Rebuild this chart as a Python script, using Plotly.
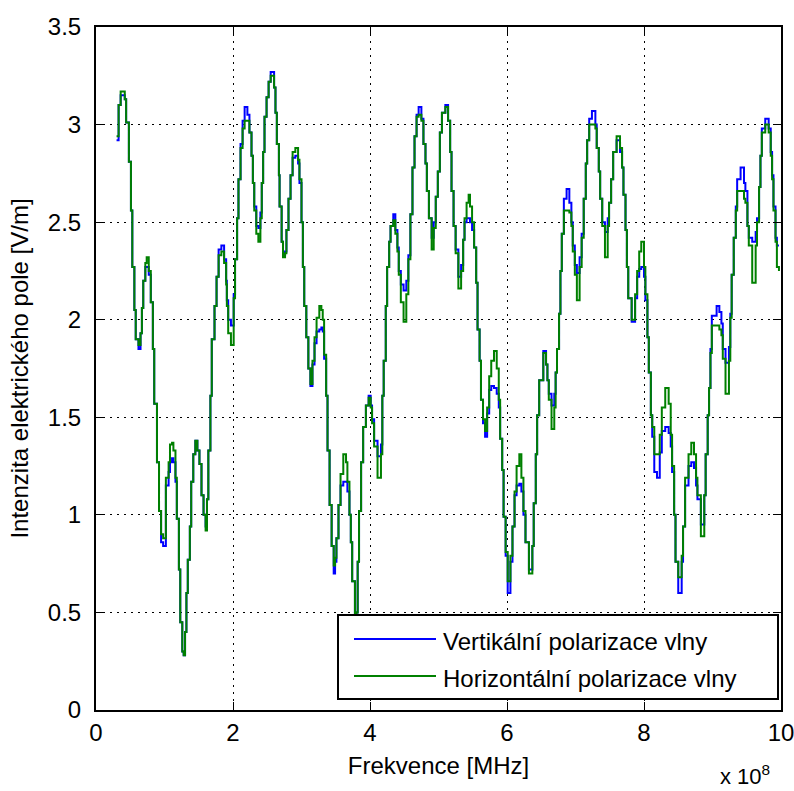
import plotly.graph_objects as go

# Frequency in units of 10^8 Hz (axis shows "x 10^8")
freq = [0.30,0.33,0.36,0.40,0.42,0.44,0.48,0.51,0.53,0.56,0.58,0.62,0.65,0.67,0.69,0.72,0.74,0.77,0.80,0.83,
        0.85,0.89,0.92,0.95,0.98,1.02,1.06,1.08,1.11,1.13,1.16,1.18,1.21,1.23,1.26,1.28,1.30,1.32,1.34,1.37,
        1.39,1.42,1.45,1.48,1.51,1.54,1.57,1.60,1.62,1.64,1.67,1.69,1.73,1.76,1.79,1.83,1.87,1.90,1.91,1.93,
        1.97,2.01,2.03,2.06,2.08,2.11,2.14,2.17,2.21,2.24,2.27,2.29,2.31,2.34,2.37,2.40,2.42,2.44,2.46,2.49,
        2.52,2.55,2.58,2.60,2.62,2.64,2.67,2.68,2.71,2.73,2.76,2.78,2.81,2.84,2.87,2.91,2.95,2.97,3.00,3.02,
        3.04,3.07,3.10,3.13,3.16,3.19,3.22,3.26,3.29,3.31,3.33,3.36,3.38,3.41,3.44,3.47,3.49,3.51,3.54,3.57,
        3.61,3.65,3.67,3.70,3.72,3.74,3.78,3.80,3.82,3.84,3.87,3.90,3.94,3.98,4.01,4.03,4.06,4.11,4.16,4.18,
        4.20,4.23,4.25,4.28,4.30,4.34,4.37,4.40,4.42,4.45,4.49,4.53,4.56,4.59,4.62,4.65,4.68,4.71,4.75,4.78,
        4.81,4.83,4.86,4.90,4.93,4.96,4.99,5.02,5.05,5.10,5.14,5.17,5.19,5.22,5.25,5.29,5.33,5.36,5.38,5.41,
        5.44,5.46,5.49,5.52,5.55,5.57,5.60,5.62,5.65,5.68,5.71,5.74,5.77,5.81,5.85,5.88,5.90,5.93,5.95,5.98,
        6.01,6.05,6.08,6.11,6.14,6.18,6.21,6.24,6.27,6.32,6.37,6.39,6.42,6.44,6.47,6.53,6.57,6.59,6.61,6.65,
        6.69,6.71,6.73,6.76,6.78,6.80,6.83,6.87,6.91,6.94,6.96,6.99,7.02,7.06,7.09,7.12,7.15,7.17,7.20,7.24,
        7.29,7.31,7.34,7.36,7.39,7.43,7.47,7.49,7.52,7.55,7.60,7.65,7.68,7.70,7.73,7.75,7.77,7.82,7.87,7.90,
        7.93,7.96,8.00,8.02,8.05,8.07,8.10,8.12,8.15,8.19,8.23,8.26,8.31,8.36,8.39,8.41,8.44,8.46,8.50,8.55,
        8.57,8.60,8.65,8.69,8.73,8.76,8.78,8.83,8.88,8.90,8.93,8.95,8.97,8.99,9.06,9.10,9.13,9.15,9.19,9.24,
        9.26,9.28,9.31,9.34,9.36,9.41,9.46,9.48,9.51,9.53,9.58,9.63,9.65,9.68,9.70,9.72,9.77,9.82,9.85,9.87,
        9.89,9.92,9.94,9.97]

# Horizontal polarization (green)
horizontal = [2.94,3.10,3.17,3.17,3.13,3.01,2.81,2.56,2.27,2.05,1.90,1.87,1.93,2.06,2.20,2.29,2.32,2.25,2.09,1.85,
        1.57,1.27,1.02,0.90,0.88,1.19,1.27,1.36,1.37,1.33,1.19,0.98,0.72,0.45,0.30,0.28,0.40,0.60,0.77,0.94,
        1.17,1.31,1.38,1.33,1.26,1.10,1.00,0.92,1.08,1.33,1.61,1.90,2.07,2.22,2.33,2.35,2.29,2.18,2.07,1.93,
        1.87,2.11,2.31,2.52,2.72,2.88,2.98,3.02,3.02,2.96,2.84,2.70,2.56,2.44,2.40,2.52,2.70,2.86,3.04,3.14,
        3.22,3.25,3.25,3.19,3.06,2.90,2.74,2.58,2.40,2.32,2.34,2.46,2.62,2.74,2.86,2.88,2.82,2.72,2.50,2.27,
        2.07,1.91,1.75,1.67,1.79,1.91,2.01,2.07,2.05,2.00,1.82,1.61,1.33,1.05,0.84,0.74,0.78,0.88,1.05,1.21,
        1.31,1.27,1.17,1.00,0.86,0.66,0.47,0.50,0.76,1.02,1.27,1.45,1.56,1.60,1.55,1.47,1.35,1.19,1.31,1.61,
        1.79,2.07,2.27,2.40,2.48,2.51,2.44,2.35,2.23,2.09,1.99,2.13,2.31,2.54,2.78,2.94,3.04,3.05,3.02,2.90,
        2.80,2.66,2.52,2.36,2.47,2.63,2.76,2.96,3.06,3.09,3.02,2.86,2.66,2.48,2.34,2.16,2.25,2.41,2.52,2.60,
        2.64,2.58,2.50,2.37,2.19,1.95,1.79,1.59,1.49,1.43,1.55,1.71,1.79,1.84,1.75,1.59,1.39,1.23,0.99,0.81,
        0.66,0.79,0.94,1.12,1.25,1.31,1.19,1.02,0.86,0.70,0.84,1.06,1.31,1.51,1.69,1.83,1.77,1.69,1.59,1.44,
        1.55,1.73,1.85,2.03,2.25,2.44,2.56,2.56,2.55,2.48,2.35,2.23,2.10,2.27,2.42,2.62,2.80,2.92,3.00,3.00,
        2.98,2.88,2.76,2.62,2.48,2.32,2.48,2.60,2.72,2.86,2.94,2.88,2.78,2.64,2.46,2.27,2.11,2.00,2.13,2.25,
        2.35,2.40,2.27,2.13,1.91,1.73,1.51,1.45,1.31,1.31,1.41,1.55,1.65,1.57,1.41,1.25,1.00,0.76,0.68,0.79,
        0.94,1.19,1.31,1.37,1.31,1.19,1.10,0.89,1.10,1.31,1.51,1.65,1.83,1.97,1.97,1.95,1.92,1.80,1.62,1.79,
        2.01,2.23,2.42,2.56,2.66,2.66,2.62,2.60,2.48,2.38,2.19,2.38,2.50,2.68,2.84,2.96,3.00,2.96,2.84,2.72,
        2.56,2.40,2.27,2.25]

# Vertical polarization (blue)
vertical = [2.92,3.10,3.15,3.15,3.13,3.01,2.81,2.56,2.27,2.05,1.90,1.85,1.93,2.06,2.20,2.27,2.27,2.23,2.09,1.85,
        1.57,1.27,1.02,0.86,0.84,1.15,1.22,1.27,1.29,1.27,1.17,0.98,0.72,0.45,0.30,0.28,0.40,0.60,0.77,0.94,
        1.17,1.31,1.38,1.33,1.26,1.10,1.00,0.94,1.08,1.33,1.61,1.90,2.07,2.22,2.36,2.38,2.31,2.20,2.10,2.00,
        1.97,2.13,2.31,2.52,2.72,2.90,3.02,3.09,3.05,2.96,2.84,2.70,2.58,2.48,2.47,2.55,2.70,2.86,3.04,3.14,
        3.22,3.27,3.27,3.19,3.06,2.90,2.74,2.58,2.40,2.33,2.35,2.46,2.62,2.74,2.83,2.84,2.80,2.70,2.50,2.27,
        2.07,1.91,1.75,1.66,1.77,1.88,1.94,1.95,1.96,1.94,1.80,1.61,1.33,1.05,0.84,0.70,0.76,0.88,1.05,1.15,
        1.17,1.17,1.12,1.00,0.86,0.66,0.47,0.50,0.76,1.02,1.27,1.45,1.56,1.61,1.56,1.49,1.38,1.30,1.36,1.61,
        1.79,2.07,2.27,2.40,2.48,2.54,2.46,2.37,2.25,2.18,2.15,2.20,2.33,2.54,2.78,2.94,3.05,3.09,3.03,2.90,
        2.80,2.66,2.52,2.42,2.50,2.63,2.76,2.96,3.06,3.10,3.02,2.86,2.66,2.48,2.36,2.22,2.28,2.41,2.50,2.52,
        2.52,2.50,2.46,2.37,2.19,1.95,1.79,1.59,1.47,1.40,1.52,1.64,1.66,1.65,1.62,1.55,1.39,1.23,0.99,0.79,
        0.60,0.76,0.94,1.10,1.15,1.16,1.12,1.00,0.86,0.72,0.84,1.06,1.31,1.51,1.69,1.84,1.77,1.69,1.62,1.56,
        1.62,1.73,1.85,2.03,2.25,2.44,2.62,2.67,2.60,2.50,2.38,2.28,2.24,2.32,2.44,2.62,2.80,2.92,3.03,3.07,
        3.00,2.88,2.76,2.62,2.50,2.45,2.52,2.60,2.72,2.86,2.92,2.86,2.78,2.64,2.46,2.27,2.11,1.99,2.11,2.22,
        2.26,2.27,2.22,2.10,1.91,1.73,1.51,1.40,1.22,1.19,1.32,1.43,1.45,1.42,1.35,1.22,1.00,0.76,0.60,0.76,
        0.94,1.15,1.25,1.27,1.24,1.15,1.08,0.95,1.10,1.31,1.51,1.65,1.85,2.02,2.07,2.04,1.98,1.85,1.78,1.86,
        2.03,2.23,2.42,2.58,2.72,2.78,2.70,2.66,2.48,2.42,2.40,2.45,2.52,2.68,2.84,2.98,3.03,2.98,2.86,2.74,
        2.58,2.42,2.38,2.38]

x_ticks = [0, 2, 4, 6, 8, 10]
y_ticks = [0, 0.5, 1, 1.5, 2, 2.5, 3, 3.5]
y_tick_labels = ["0", "0.5", "1", "1.5", "2", "2.5", "3", "3.5"]

series_names = ["Vertikální polarizace vlny", "Horizontální polarizace vlny"]
series_colors = ["#0000FF", "#008000"]

FONT = "Liberation Sans, Arial, sans-serif"

fig = go.Figure()
fig.add_trace(go.Scatter(x=freq, y=vertical, mode="lines", name=series_names[0],
                         line=dict(color=series_colors[0], width=2, shape="hv")))
fig.add_trace(go.Scatter(x=freq, y=horizontal, mode="lines", name=series_names[1],
                         line=dict(color=series_colors[1], width=2, shape="hv")))

# Body margin is removed in the page (post_script), so figure pixels = window pixels.
W, H = 794, 791
ML, MT = 96, 27
MR = W - 781
MB = H - 710
PW, PH = W - ML - MR, H - MT - MB

def px(xp):
    return (xp - ML) / PW

def py(yp):
    return (H - MB - yp) / PH

axis_common = dict(
    showline=True, linecolor="black", linewidth=2, mirror="ticks",
    ticks="inside", ticklen=8, tickcolor="black", tickwidth=1,
    showgrid=True, gridcolor="black", gridwidth=1, griddash="2px,5px",
    zeroline=False, automargin=False, ticklabeloverflow="allow",
    tickfont=dict(family=FONT, size=24, color="black"),
)

fig.update_xaxes(range=[0, 10], tickvals=x_ticks, ticklabelstandoff=0,
                 title=dict(text="Frekvence [MHz]", font=dict(family=FONT, size=24, color="black"), standoff=12),
                 **axis_common)
fig.update_yaxes(range=[0, 3.5], tickvals=y_ticks, ticktext=y_tick_labels, ticklabelstandoff=8,
                 title=dict(text="Intenzita elektrického pole [V/m]", font=dict(family=FONT, size=24, color="black"), standoff=12),
                 **axis_common)

# Legend box drawn manually to match the long MATLAB line samples
shapes = [
    dict(type="rect", xref="paper", yref="paper", x0=px(338), x1=px(778), y0=py(699), y1=py(615),
         line=dict(color="black", width=2), fillcolor="white", layer="above"),
    dict(type="line", xref="paper", yref="paper", x0=px(354), x1=px(436), y0=py(639), y1=py(639),
         line=dict(color=series_colors[0], width=2), layer="above"),
    dict(type="line", xref="paper", yref="paper", x0=px(354), x1=px(436), y0=py(676), y1=py(676),
         line=dict(color=series_colors[1], width=2), layer="above"),
]
annotations = [
    dict(xref="paper", yref="paper", x=px(441), y=py(641), xanchor="left", yanchor="middle",
         text=series_names[0], showarrow=False, font=dict(family=FONT, size=24, color="black")),
    dict(xref="paper", yref="paper", x=px(441), y=py(678), xanchor="left", yanchor="middle",
         text=series_names[1], showarrow=False, font=dict(family=FONT, size=24, color="black")),
    dict(xref="paper", yref="paper", x=px(772), y=py(775), xanchor="right", yanchor="middle",
         text="x 10<sup>8</sup>", showarrow=False, font=dict(family=FONT, size=22, color="black")),
]

fig.update_layout(
    width=W, height=H,
    margin=dict(l=ML, r=MR, t=MT, b=MB, pad=0),
    paper_bgcolor="white", plot_bgcolor="white",
    showlegend=False, shapes=shapes, annotations=annotations,
    font=dict(family=FONT, size=24, color="black"),
)

fig.write_html("out.html", config={"displayModeBar": False},
               post_script="document.body.style.margin='0';document.body.style.overflow='hidden';")
